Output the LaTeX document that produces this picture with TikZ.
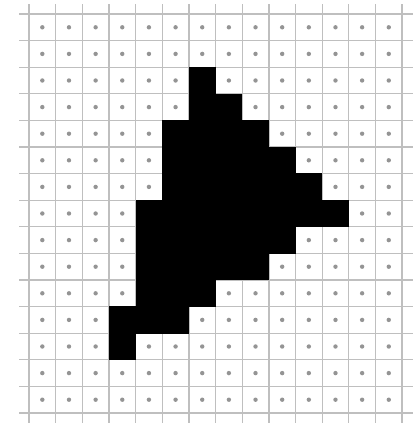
\documentclass[tikz,border=0pt]{standalone}
\begin{document}
\begin{tikzpicture}[x=1pt,y=-1pt]
\useasboundingbox (0,0) rectangle (413,423);
\def\sx{26.65}
\def\sy{26.6}
\tikzset{
  gridline/.style={draw=black!25, line width=1.3pt},
  griddot/.style={fill=black!42},
  blackcell/.style={fill=black}
}
\foreach \k in {0,...,14} \draw[gridline] ({29+\k*\sx},4) -- ({29+\k*\sx},423);
\foreach \k in {0,...,15} \draw[gridline] (19,{14+\k*\sy}) -- (413,{14+\k*\sy});
\foreach \c in {0,...,13} \foreach \r in {0,...,14}
  \fill[griddot] ({29+(\c+0.5)*\sx},{14+(\r+0.5)*\sy}) circle (2.2);
\foreach \r/\a/\b in {2/6/6,3/6/7,4/5/8,5/5/9,6/5/10,7/4/11,8/4/9,9/4/8,10/4/6,11/3/5,12/3/3}
  \fill[blackcell] ({29+\a*\sx},{14+\r*\sy-0.3}) rectangle ({29+(\b+1)*\sx},{14+(\r+1)*\sy+0.3});
\end{tikzpicture}
\end{document}
